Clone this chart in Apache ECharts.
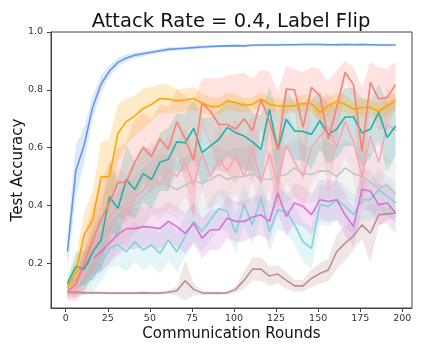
<!DOCTYPE html>
<html>
<head>
<meta charset="utf-8">
<script src="https://cdn.jsdelivr.net/npm/echarts@6/dist/echarts.min.js"></script>
<style>
  html, body { margin: 0; padding: 0; background: #fff; }
  #chart { width: 423px; height: 353px; }
</style>
</head>
<body>
<div id="chart"></div>
<script>
// communication rounds (x)
var rounds = [1, 6, 11, 16, 21, 26, 31, 36, 41, 46, 51, 56, 61, 66, 71, 76, 81, 86, 91, 96,
  101, 106, 111, 116, 121, 126, 131, 136, 141, 146, 151, 156, 161, 166, 171, 176, 181, 186, 191, 196]
var xTicks = [0, 25, 50, 75, 100, 125, 150, 175, 200]
var yTicks = [0.2, 0.4, 0.6, 0.8, 1.0]

var blueMean = [0.24, 0.52, 0.61, 0.74, 0.82, 0.865, 0.895, 0.91, 0.92, 0.925, 0.93, 0.935, 0.94, 0.942, 0.944, 0.946, 0.948, 0.95, 0.951, 0.952,
  0.953, 0.952, 0.954, 0.955, 0.955, 0.955, 0.956, 0.956, 0.957, 0.957, 0.957, 0.956, 0.956, 0.957, 0.956, 0.957, 0.956, 0.955, 0.955, 0.955]
var blueStd = [0.06, 0.09, 0.06, 0.04, 0.03, 0.02, 0.015, 0.012, 0.01, 0.01, 0.008, 0.008, 0.007, 0.007, 0.006, 0.006, 0.006, 0.005, 0.005, 0.005,
  0.004, 0.004, 0.004, 0.004, 0.004, 0.004, 0.004, 0.004, 0.004, 0.004, 0.004, 0.004, 0.004, 0.004, 0.004, 0.004, 0.004, 0.004, 0.004, 0.004]

var orangeMean = [0.12, 0.17, 0.3, 0.35, 0.5, 0.5, 0.65, 0.69, 0.71, 0.735, 0.75, 0.77, 0.768, 0.762, 0.765, 0.77, 0.755, 0.742, 0.742, 0.762,
  0.756, 0.746, 0.75, 0.768, 0.75, 0.745, 0.743, 0.745, 0.753, 0.752, 0.722, 0.745, 0.76, 0.75, 0.733, 0.739, 0.739, 0.725, 0.745, 0.762]
var orangeStd = [0.02, 0.05, 0.08, 0.1, 0.12, 0.13, 0.1, 0.08, 0.07, 0.07, 0.06, 0.05, 0.05, 0.04, 0.04, 0.04, 0.035, 0.03, 0.03, 0.03,
  0.03, 0.025, 0.025, 0.025, 0.025, 0.025, 0.025, 0.025, 0.03, 0.03, 0.035, 0.03, 0.03, 0.03, 0.03, 0.03, 0.025, 0.03, 0.03, 0.03]

var salmonMean = [0.1, 0.13, 0.2, 0.28, 0.35, 0.41, 0.48, 0.48, 0.55, 0.6, 0.57, 0.63, 0.595, 0.69, 0.63, 0.555, 0.755, 0.725, 0.68, 0.68,
  0.664, 0.7, 0.658, 0.768, 0.693, 0.594, 0.803, 0.8, 0.67, 0.809, 0.78, 0.629, 0.739, 0.861, 0.818, 0.588, 0.826, 0.768, 0.774, 0.818]
var salmonStd = [0.03, 0.06, 0.1, 0.12, 0.13, 0.14, 0.12, 0.14, 0.15, 0.12, 0.13, 0.12, 0.145, 0.11, 0.15, 0.2, 0.085, 0.115, 0.16, 0.17,
  0.19, 0.16, 0.18, 0.1, 0.17, 0.2, 0.08, 0.07, 0.19, 0.07, 0.09, 0.2, 0.13, 0.04, 0.06, 0.22, 0.07, 0.11, 0.1, 0.08]

var tealMean = [0.13, 0.19, 0.18, 0.24, 0.28, 0.43, 0.39, 0.49, 0.455, 0.51, 0.49, 0.55, 0.56, 0.62, 0.617, 0.667, 0.583, 0.606, 0.629, 0.67,
  0.652, 0.64, 0.62, 0.594, 0.733, 0.594, 0.698, 0.658, 0.656, 0.646, 0.693, 0.646, 0.664, 0.706, 0.706, 0.652, 0.664, 0.722, 0.635, 0.675]
var tealStd = [0.02, 0.05, 0.06, 0.08, 0.1, 0.12, 0.1, 0.12, 0.1, 0.1, 0.1, 0.1, 0.11, 0.1, 0.1, 0.1, 0.12, 0.1, 0.1, 0.1,
  0.1, 0.12, 0.1, 0.12, 0.08, 0.12, 0.1, 0.1, 0.1, 0.12, 0.1, 0.1, 0.1, 0.1, 0.1, 0.12, 0.1, 0.1, 0.12, 0.1]

var pinkMean = [0.1, 0.12, 0.18, 0.26, 0.3, 0.36, 0.4, 0.38, 0.43, 0.45, 0.5, 0.47, 0.52, 0.5, 0.55, 0.47, 0.58, 0.5, 0.56, 0.52,
  0.57, 0.5, 0.6, 0.48, 0.58, 0.47, 0.61, 0.55, 0.5, 0.6, 0.64, 0.67, 0.6, 0.69, 0.62, 0.5, 0.64, 0.55, 0.68, 0.66]
var pinkStd = [0.02, 0.04, 0.07, 0.1, 0.12, 0.12, 0.13, 0.12, 0.12, 0.13, 0.12, 0.12, 0.13, 0.12, 0.12, 0.12, 0.13, 0.12, 0.12, 0.12,
  0.13, 0.12, 0.12, 0.13, 0.12, 0.12, 0.13, 0.12, 0.12, 0.12, 0.13, 0.12, 0.12, 0.12, 0.13, 0.12, 0.12, 0.12, 0.13, 0.12]

var grayMean = [0.1, 0.12, 0.16, 0.22, 0.27, 0.3, 0.35, 0.38, 0.4, 0.43, 0.46, 0.48, 0.47, 0.455, 0.47, 0.484, 0.478, 0.49, 0.507, 0.49,
  0.5, 0.5, 0.51, 0.49, 0.49, 0.5, 0.507, 0.53, 0.51, 0.507, 0.519, 0.52, 0.5, 0.53, 0.51, 0.5, 0.48, 0.46, 0.47, 0.44]
var grayStd = [0.02, 0.04, 0.06, 0.08, 0.1, 0.1, 0.1, 0.1, 0.1, 0.1, 0.1, 0.1, 0.1, 0.1, 0.1, 0.1, 0.1, 0.1, 0.1, 0.1,
  0.1, 0.1, 0.1, 0.1, 0.1, 0.1, 0.1, 0.1, 0.1, 0.1, 0.1, 0.1, 0.1, 0.1, 0.1, 0.1, 0.1, 0.1, 0.1, 0.1]

var orchidMean = [0.1, 0.12, 0.188, 0.217, 0.24, 0.27, 0.3, 0.32, 0.32, 0.327, 0.325, 0.32, 0.345, 0.327, 0.304, 0.339, 0.287, 0.316, 0.316, 0.357,
  0.345, 0.345, 0.36, 0.368, 0.345, 0.443, 0.362, 0.409, 0.397, 0.368, 0.42, 0.414, 0.42, 0.368, 0.327, 0.455, 0.45, 0.403, 0.409, 0.374]
var orchidStd = [0.01, 0.03, 0.05, 0.06, 0.07, 0.07, 0.07, 0.07, 0.07, 0.07, 0.07, 0.07, 0.07, 0.07, 0.07, 0.07, 0.07, 0.07, 0.07, 0.07,
  0.07, 0.07, 0.07, 0.07, 0.07, 0.07, 0.07, 0.07, 0.07, 0.07, 0.07, 0.07, 0.07, 0.07, 0.07, 0.07, 0.07, 0.07, 0.07, 0.07]

var turqMean = [0.11, 0.12, 0.13, 0.15, 0.2, 0.252, 0.264, 0.24, 0.275, 0.246, 0.264, 0.235, 0.281, 0.24, 0.293, 0.345, 0.31, 0.351, 0.39, 0.38,
  0.304, 0.403, 0.333, 0.426, 0.31, 0.385, 0.38, 0.333, 0.275, 0.252, 0.403, 0.397, 0.42, 0.397, 0.368, 0.42, 0.42, 0.455, 0.432, 0.409]
var turqStd = [0.02, 0.03, 0.04, 0.05, 0.06, 0.07, 0.07, 0.07, 0.07, 0.07, 0.07, 0.07, 0.07, 0.07, 0.07, 0.07, 0.07, 0.07, 0.07, 0.07,
  0.07, 0.07, 0.07, 0.07, 0.07, 0.07, 0.07, 0.07, 0.07, 0.07, 0.07, 0.07, 0.07, 0.07, 0.07, 0.07, 0.07, 0.07, 0.07, 0.07]

var brownMean = [0.1, 0.1, 0.098, 0.098, 0.098, 0.097, 0.097, 0.097, 0.097, 0.098, 0.097, 0.097, 0.1, 0.105, 0.14, 0.11, 0.098, 0.097, 0.097, 0.098,
  0.11, 0.142, 0.18, 0.18, 0.156, 0.163, 0.142, 0.122, 0.122, 0.148, 0.165, 0.177, 0.24, 0.27, 0.295, 0.333, 0.304, 0.368, 0.371, 0.374]
var brownStd = [0.01, 0.008, 0.006, 0.006, 0.005, 0.005, 0.005, 0.005, 0.005, 0.006, 0.006, 0.006, 0.008, 0.015, 0.07, 0.02, 0.008, 0.006, 0.006, 0.006,
  0.012, 0.03, 0.04, 0.04, 0.035, 0.03, 0.03, 0.02, 0.02, 0.03, 0.035, 0.04, 0.06, 0.06, 0.05, 0.05, 0.1, 0.04, 0.02, 0.015]

var runs = [
  { mean: brownMean, std: brownStd, color: '#BC8F8F' },
  { mean: turqMean, std: turqStd, color: '#7ED3DB' },
  { mean: orchidMean, std: orchidStd, color: '#DA70D6' },
  { mean: grayMean, std: grayStd, color: '#C4C4C4' },
  { mean: pinkMean, std: pinkStd, color: '#F8A5B5' },
  { mean: tealMean, std: tealStd, color: '#20B2AA' },
  { mean: salmonMean, std: salmonStd, color: '#FA8072' },
  { mean: orangeMean, std: orangeStd, color: '#FFA500' },
  { mean: blueMean, std: blueStd, color: '#6495ED' }
]

// shaded band (mean +- std) drawn as one polygon through the axes
function bandSeries(run) {
  return {
    type: 'custom',
    silent: true,
    z: 1,
    data: [[rounds[0], run.mean[0]]],
    renderItem: function(params, api) {
      var upper = []
      var lower = []
      for (var i = 0; i < rounds.length; i++) {
        upper.push(api.coord([rounds[i], run.mean[i] + run.std[i]]))
        lower.unshift(api.coord([rounds[i], run.mean[i] - run.std[i]]))
      }
      return {
        type: 'polygon',
        shape: { points: upper.concat(lower) },
        style: { fill: run.color, opacity: 0.22 }
      }
    }
  }
}

function lineSeries(run) {
  return {
    type: 'line',
    z: 3,
    showSymbol: false,
    data: rounds.map(function(r, i) { return [r, run.mean[i]] }),
    lineStyle: { color: run.color, width: 1.6 },
    itemStyle: { color: run.color }
  }
}

var series = []
runs.forEach(function(run) { series.push(bandSeries(run)) })
runs.forEach(function(run) { series.push(lineSeries(run)) })

var chart = echarts.init(document.getElementById('chart'))
chart.setOption({
  animation: false,
  textStyle: { fontFamily: 'DejaVu Sans' },
  title: {
    text: 'Attack Rate = 0.4, Label Flip',
    left: 226,
    textAlign: 'center',
    top: 7,
    textStyle: { fontSize: 19.5, fontWeight: 'normal', color: '#111', fontFamily: 'DejaVu Sans' }
  },
  grid: {
    left: 51,
    right: 11,
    top: 32,
    bottom: 45,
    outerBoundsMode: 'none',
    show: true,
    borderColor: '#444',
    borderWidth: 1
  },
  xAxis: {
    type: 'value',
    min: -8.75,
    max: 205.75,
    name: 'Communication Rounds',
    nameLocation: 'middle',
    nameGap: 19,
    nameMoveOverlap: false,
    nameTextStyle: { fontSize: 15, color: '#111' },
    axisLine: { show: true, onZero: false, lineStyle: { color: '#444' } },
    splitLine: { show: false },
    axisTick: { show: true, inside: false, length: 4, lineStyle: { color: '#444' }, customValues: xTicks },
    axisLabel: { fontSize: 9.5, color: '#333', margin: 6, customValues: xTicks }
  },
  yAxis: {
    type: 'value',
    min: 0.0456,
    max: 1.0,
    name: 'Test Accuracy',
    nameLocation: 'middle',
    nameGap: 25,
    nameMoveOverlap: false,
    nameTextStyle: { fontSize: 15, color: '#111' },
    axisLine: { show: true, onZero: false, lineStyle: { color: '#444' } },
    splitLine: { show: false },
    axisTick: { show: true, inside: false, length: 4, lineStyle: { color: '#444' }, customValues: yTicks },
    axisLabel: {
      fontSize: 9.5, color: '#333', margin: 8, customValues: yTicks,
      formatter: function(v) { return v.toFixed(1) }
    }
  },
  series: series
})
</script>
</body>
</html>
